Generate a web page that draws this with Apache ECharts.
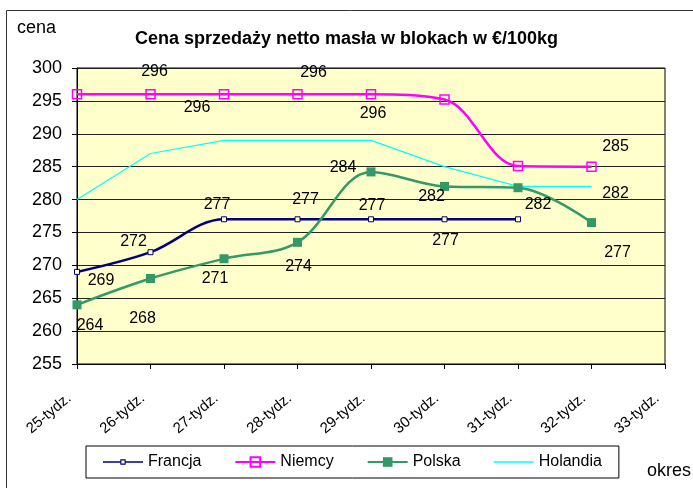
<!DOCTYPE html>
<html>
<head>
<meta charset="utf-8">
<script src="https://cdn.jsdelivr.net/npm/echarts@6/dist/echarts.min.js"></script>
<style>
  html, body {margin: 0; padding: 0; background: #fff;}
  #chart {width: 693px; height: 488px;}
</style>
</head>
<body>
<div id="chart"></div>
<script>
// dane z wykresu
const weeks = ['25-tydz.', '26-tydz.', '27-tydz.', '28-tydz.', '29-tydz.', '30-tydz.', '31-tydz.', '32-tydz.', '33-tydz.'];
const francja = [269, 272, 277, 277, 277, 277, 277];
const niemcy = [296, 296, 296, 296, 296, 295.2, 285.1, 285];
const polska = [264, 268, 271, 273.5, 284.2, 282, 281.8, 276.5];
const holandia = [280, 287, 289, 289, 289, 285, 282, 282];
const yTicks = [255, 260, 265, 270, 275, 280, 285, 290, 295, 300];

// przesuniecia etykiet (jak w Excelu, kazda w innym miejscu)
const francjaLabels = {0: [24, 9], 1: [-17, -11], 2: [-7, -15], 3: [8, -20], 4: [1, -14], 5: [1, 21]};
const niemcyLabels = {1: [4, -23], 2: [-27, 13], 3: [16, -22], 4: [2, 19], 7: [24, -20]};
const polskaLabels = {0: [13, 21], 1: [-8, 40], 2: [-9, 20], 3: [1, 24], 4: [-28, -4], 5: [-13, 10], 6: [20, 17], 7: [26, 30]};
const holandiaLabels = {7: [24, 7]};

function withLabels(values, labels) {
    return values.map((v, i) => {
        if (!labels[i]) return v;
        return {
            value: v,
            label: {
                show: true,
                position: 'inside',
                offset: labels[i],
                formatter: Math.round(v) + ''
            }
        };
    });
}

const labelStyle = {color: '#000', fontSize: 16, fontFamily: 'Liberation Sans, Arial'};
// ikony legendy: male kropki w rogach trzymaja ramke 40x12
const corners = ' M0,0L0.01,0L0.01,0.01Z M40,12L39.99,12L39.99,11.99Z';
const plainLineIcon = 'path://M0,5.3L40,5.3L40,6.7L0,6.7Z' + corners;
const smallSquareIcon = 'path://M0,5.2L17.5,5.2L17.5,6.8L0,6.8Z M22.5,5.2L40,5.2L40,6.8L22.5,6.8Z' +
    ' M17.3,3.3L22.7,3.3L22.7,8.7L17.3,8.7Z M18.4,4.4L18.4,7.6L21.6,7.6L21.6,4.4Z' + corners;

let chart = echarts.init(document.getElementById('chart'));
chart.setOption({
    animation: false,
    textStyle: {fontFamily: 'Liberation Sans, Arial'},
    title: {
        text: 'Cena sprzedaży netto masła w blokach w €/100kg',
        left: 'center',
        top: 25,
        textStyle: {fontSize: 18, fontWeight: 'bold', color: '#000'}
    },
    graphic: [
        {type: 'rect', shape: {x: 6.5, y: 10.5, width: 800, height: 600}, style: {fill: 'none', stroke: '#333', lineWidth: 1}, silent: true},
        {type: 'text', left: 17, top: 19, style: {text: 'cena', fill: '#000', font: '18px Liberation Sans'}},
        {type: 'text', left: 647, top: 462, style: {text: 'okres', fill: '#000', font: '18px Liberation Sans'}}
    ],
    grid: {
        left: 77, top: 68, right: 28, bottom: 124,
        show: true,
        backgroundColor: '#FFFFCC',
        borderColor: '#000',
        borderWidth: 1
    },
    legend: {
        left: 86,
        top: 446,
        padding: [8, 17],
        itemGap: 33,
        itemWidth: 40,
        itemHeight: 12,
        borderColor: '#000',
        borderWidth: 1,
        textStyle: {fontSize: 16, color: '#000'},
        data: [
            {name: 'Francja', icon: smallSquareIcon, itemStyle: {color: '#000080', borderWidth: 0}},
            'Niemcy',
            'Polska',
            {name: 'Holandia', icon: plainLineIcon, itemStyle: {color: '#00FFFF', borderWidth: 0}}
        ]
    },
    xAxis: {
        type: 'category',
        boundaryGap: false,
        data: weeks,
        axisLine: {lineStyle: {color: '#000'}},
        axisTick: {show: true, length: 5, lineStyle: {color: '#000'}},
        axisLabel: {rotate: 40, fontSize: 15, color: '#000', margin: 26, interval: 0, padding: [0, 10, 0, 0]},
        splitLine: {show: false}
    },
    yAxis: {
        type: 'value',
        min: yTicks[0],
        max: yTicks[yTicks.length - 1],
        interval: 5,
        axisLine: {show: true, lineStyle: {color: '#000'}},
        axisTick: {show: true, length: 5, lineStyle: {color: '#000'}},
        axisLabel: {fontSize: 18, color: '#000', margin: 15},
        splitLine: {lineStyle: {color: '#222', width: 1}}
    },
    series: [
        {
            name: 'Francja',
            type: 'line',
            smooth: 0.35,
            data: withLabels(francja, francjaLabels),
            lineStyle: {width: 2.5, color: '#000080'},
            symbol: 'rect',
            symbolSize: 5,
            itemStyle: {color: '#FFFFCC', borderColor: '#000080', borderWidth: 1},
            label: labelStyle,
            z: 4
        },
        {
            name: 'Niemcy',
            type: 'line',
            smooth: 0.35,
            data: withLabels(niemcy, niemcyLabels),
            lineStyle: {width: 2.5, color: '#FF00FF'},
            symbol: 'rect',
            symbolSize: 9,
            itemStyle: {color: 'rgba(255,255,204,0)', borderColor: '#FF00FF', borderWidth: 1.5},
            label: labelStyle,
            z: 3
        },
        {
            name: 'Polska',
            type: 'line',
            smooth: 0.35,
            data: withLabels(polska, polskaLabels),
            lineStyle: {width: 2.5, color: '#339966'},
            symbol: 'rect',
            symbolSize: 9,
            itemStyle: {color: '#339966'},
            label: labelStyle,
            z: 5
        },
        {
            name: 'Holandia',
            type: 'line',
            smooth: false,
            data: withLabels(holandia, holandiaLabels),
            lineStyle: {width: 1.2, color: '#00FFFF'},
            symbol: 'circle',
            symbolSize: 0,
            itemStyle: {color: '#00FFFF'},
            label: labelStyle,
            z: 2
        }
    ]
});
</script>
</body>
</html>
